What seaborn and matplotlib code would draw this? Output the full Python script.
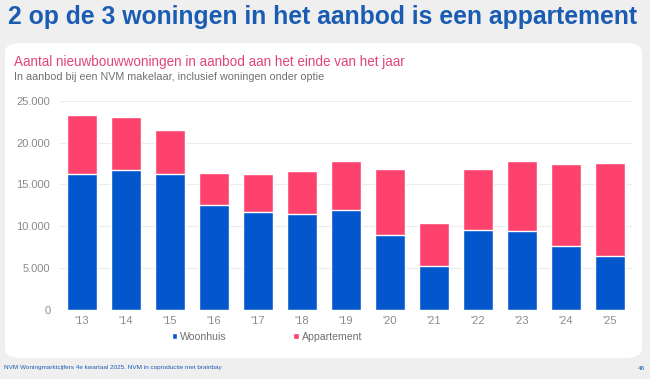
import matplotlib
matplotlib.use("Agg")
import matplotlib.pyplot as plt
from matplotlib.patches import FancyBboxPatch, Patch
import seaborn as sns
import pandas as pd

years = ["'13", "'14", "'15", "'16", "'17", "'18", "'19", "'20", "'21", "'22", "'23", "'24", "'25"]
woonhuis = [16200, 16700, 16300, 12500, 11700, 11500, 12000, 8900, 5200, 9500, 9400, 7600, 6400]
totaal = [23300, 23000, 21500, 16400, 16200, 16600, 17800, 16800, 10350, 16800, 17800, 17400, 17500]
yticks = [0, 5000, 10000, 15000, 20000, 25000]
ytick_labels = ["0", "5.000", "10.000", "15.000", "20.000", "25.000"]

BLUE = "#0456cc"
PINK = "#fd426d"
TITLE_BLUE = "#1b5cb3"

df = pd.DataFrame({"jaar": years, "woonhuis": woonhuis, "totaal": totaal})

sns.set_theme(style="white")
plt.rcParams["font.family"] = ["Liberation Sans", "DejaVu Sans"]

W, H = 650, 379
fig = plt.figure(figsize=(6.5, 3.79), dpi=100)
fig.patch.set_facecolor("#efefef")

# white rounded panel behind the chart
panel = FancyBboxPatch((5 / W, (H - 358) / H), 637 / W, 315 / H,
                       boxstyle="round,pad=0,rounding_size=0.025",
                       transform=fig.transFigure, facecolor="white",
                       edgecolor="none", zorder=-5)
fig.patches.append(panel)

fig.text(8 / W, 1 - 17 / H, "2 op de 3 woningen in het aanbod is een appartement",
         fontsize=17.8, fontweight="bold", color=TITLE_BLUE, va="center", ha="left")
fig.text(14 / W, 1 - 62 / H, "Aantal nieuwbouwwoningen in aanbod aan het einde van het jaar",
         fontsize=9.75, color="#e0457a", va="center", ha="left")
fig.text(14 / W, 1 - 77 / H, "In aanbod bij een NVM makelaar, inclusief woningen onder optie",
         fontsize=7.75, color="#707070", va="center", ha="left")
fig.text(4 / W, 1 - 368 / H, "NVM Woningmarktcijfers 4e kwartaal 2025. NVM in coproductie met brainbay",
         fontsize=4.6, color=TITLE_BLUE, va="center", ha="left")
fig.text(645 / W, 1 - 368 / H, "46", fontsize=4.6, color=TITLE_BLUE, va="center", ha="right")

ax = fig.add_axes([60 / W, 69 / H, 572 / W, 209.3 / H])
ax.set_facecolor("none")

sns.barplot(data=df, x="jaar", y="totaal", color=PINK, width=0.66,
            saturation=1, ax=ax, zorder=3)
sns.barplot(data=df, x="jaar", y="woonhuis", color=BLUE, width=0.66,
            saturation=1, ax=ax, zorder=4)

ax.set_ylim(0, 25000)
ax.set_xlim(-0.5, len(years) - 0.5)
ax.set_yticks(yticks)
ax.set_yticklabels(ytick_labels)
ax.yaxis.grid(True, color="#ececec", linewidth=0.8, zorder=0)
ax.set_axisbelow(True)
for s in ax.spines.values():
    s.set_visible(False)
ax.axhline(0, color="#e4e4e4", linewidth=0.8, zorder=2)
ax.set_xlabel("")
ax.set_ylabel("")
ax.tick_params(axis="both", length=0, labelsize=8, labelcolor="#8a8a8a")
ax.tick_params(axis="y", pad=7)
ax.tick_params(axis="x", pad=4)

handles = [Patch(facecolor=BLUE, label="Woonhuis"),
           Patch(facecolor=PINK, label="Appartement")]
fig.legend(handles=handles, loc="center", bbox_to_anchor=(267 / W, 1 - 337 / H),
           ncol=2, frameon=False, fontsize=7.6, labelcolor="#707070",
           handlelength=0.5, handleheight=0.5, handletextpad=0.3,
           columnspacing=6.3)

fig.savefig("out.png", dpi=100, facecolor=fig.get_facecolor())
